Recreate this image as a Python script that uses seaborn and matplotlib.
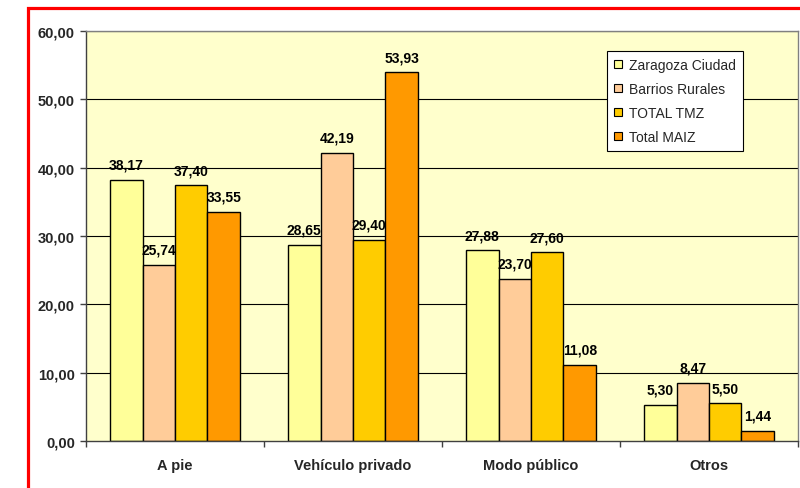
import matplotlib
matplotlib.use("Agg")
import matplotlib.pyplot as plt
import matplotlib.patches as mpatches
import seaborn as sns
import pandas as pd
import numpy as np

categories = ["A pie", "Vehículo privado", "Modo público", "Otros"]
series = ["Zaragoza Ciudad", "Barrios Rurales", "TOTAL TMZ", "Total MAIZ"]
zaragoza = [38.17, 28.65, 27.88, 5.30]
barrios = [25.74, 42.19, 23.70, 8.47]
tmz = [37.40, 29.40, 27.60, 5.50]
maiz = [33.55, 53.93, 11.08, 1.44]
colors = ["#FFFF99", "#FFCC99", "#FFCC00", "#FF9900"]
yticks = [0, 10, 20, 30, 40, 50, 60]

values = [zaragoza, barrios, tmz, maiz]
rows = []
for s, vals in zip(series, values):
    for c, v in zip(categories, vals):
        rows.append({"cat": c, "serie": s, "val": v})
df = pd.DataFrame(rows)

sns.set_theme(style="white")
plt.rcParams["font.family"] = ["Liberation Sans", "DejaVu Sans"]

fig = plt.figure(figsize=(8.0, 4.89), dpi=100)
fig.patch.set_facecolor("white")
ax = fig.add_axes([86/800, 1-442/489, (798-86)/800, (442-32)/489])
ax.set_facecolor("#FFFFCC")

sns.barplot(data=df, x="cat", y="val", hue="serie", hue_order=series,
            order=categories, palette=colors, width=0.73, gap=0,
            edgecolor="black", linewidth=1.0, saturation=1, ax=ax,
            legend=False, errorbar=None)

def fmt(v):
    return f"{v:.2f}".replace(".", ",")

for cont in ax.containers:
    ax.bar_label(cont, labels=[fmt(b.get_height()) for b in cont],
                 padding=6.0, fontsize=10, fontweight="bold", color="black")

ax.set_ylim(0, 60)
ax.set_xlim(-0.5, 3.5)
ax.set_yticks(yticks)
ax.set_yticklabels([fmt(t) for t in yticks], fontsize=10.5, fontweight="bold")
ax.set_xticks(range(len(categories)))
ax.set_xticklabels(categories, fontsize=10.5, fontweight="bold")
ax.set_xticks([-0.5, 0.5, 1.5, 2.5, 3.5], minor=True)
ax.tick_params(axis="x", which="major", length=0, pad=12)
ax.tick_params(axis="x", which="minor", length=4, width=1, color="#404040", direction="out", bottom=True)
ax.tick_params(axis="y", length=4, width=1, color="#404040", direction="out", left=True, pad=4)
ax.set_xlabel("")
ax.set_ylabel("")
ax.grid(False)
for y in yticks[1:]:
    ax.axhline(y, color="black", lw=0.8, zorder=0.5)

for side in ["left", "bottom"]:
    ax.spines[side].set_color("#404040")
    ax.spines[side].set_linewidth(1)
for side in ["top", "right"]:
    ax.spines[side].set_color("#808080")
    ax.spines[side].set_linewidth(1)

handles = [mpatches.Patch(facecolor=c, edgecolor="black", linewidth=0.8) for c in colors]
leg = fig.legend(handles, series, loc="upper left",
                 bbox_to_anchor=(607/800, 1-52/489), bbox_transform=fig.transFigure,
                 fontsize=10, frameon=True, fancybox=False, shadow=False,
                 handlelength=0.6, handleheight=0.6, handletextpad=0.5,
                 labelspacing=0.72, borderpad=0.5, borderaxespad=0)
leg.get_frame().set_edgecolor("black")
leg.get_frame().set_linewidth(0.8)
leg.get_frame().set_facecolor("white")
leg.get_frame().set_alpha(1)

border = mpatches.Rectangle((27.5/800, -0.2), 1.2, 1-8.5/489+0.2, transform=fig.transFigure,
                            fill=False, edgecolor="#FF0000", linewidth=2.3, clip_on=False)
fig.patches.append(border)

fig.savefig("out.png", dpi=100, facecolor="white")
